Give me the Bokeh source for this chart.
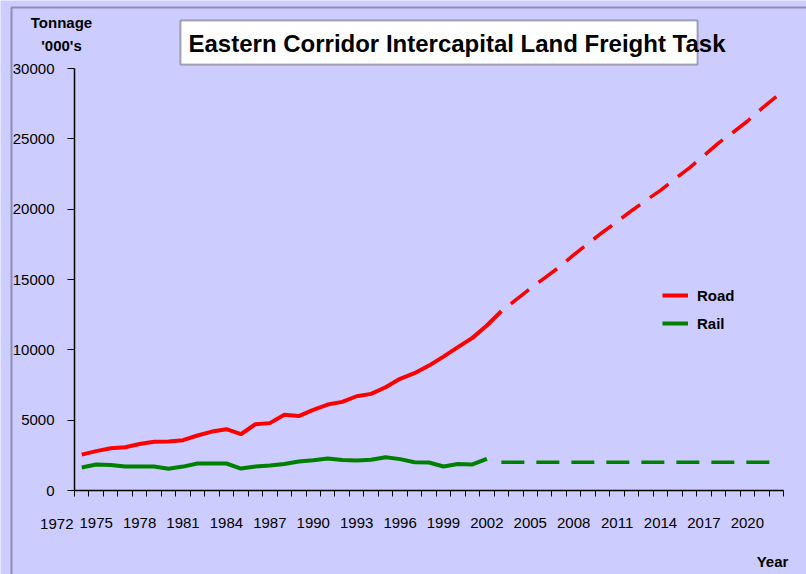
from bokeh.plotting import figure
from bokeh.models import (Range1d, FixedTicker, Label, BoxAnnotation, Legend, LegendItem)
from bokeh.embed import file_html
from bokeh.resources import INLINE

# ---- data ----
road_years = list(range(1974, 2004))
road_values = [2550, 2800, 3000, 3080, 3310, 3460, 3480, 3580, 3910, 4190,
               4360, 4000, 4710, 4790, 5380, 5290, 5730, 6110, 6300, 6700,
               6870, 7340, 7940, 8340, 8880, 9520, 10190, 10850, 11730, 12750]
road_fc_years = list(range(2003, 2023))
road_fc_values = [12750, 13550, 14360, 15120, 15880, 16750, 17560, 18360, 19110, 19890,
                  20630, 21340, 22150, 22940, 23800, 24690, 25450, 26250, 27160, 28000]
rail_years = list(range(1974, 2003))
rail_values = [1640, 1850, 1820, 1710, 1700, 1700, 1540, 1700, 1920, 1920,
               1920, 1560, 1700, 1780, 1890, 2060, 2150, 2270, 2170, 2130,
               2180, 2370, 2230, 2010, 1990, 1710, 1890, 1850, 2250]
rail_fc_years = list(range(2003, 2023))
rail_fc_values = [2000, 2000, 2000, 2000, 2000, 2000, 2000, 2000, 2000, 2000,
                  2000, 2000, 2000, 2000, 2000, 2000, 2000, 2000, 2000, 2000]
x_tick_labels = [1972, 1975, 1978, 1981, 1984, 1987, 1990, 1993, 1996, 1999,
                 2002, 2005, 2008, 2011, 2014, 2017, 2020]
y_ticks = [0, 5000, 10000, 15000, 20000, 25000, 30000]

BG = "#CCCCFF"
FONT = "Liberation Sans"
X0, X1 = 1973.5, 2022.5      # extent of the drawn x axis
Y0, Y1 = 0, 30000            # extent of the drawn y axis
W, H = 806, 574
# where the axes sit on the canvas (pixels)
AL, AR, AT, AB = 74, 783, 68, 490

def dx(px):
    return X0 + (px - AL) * (X1 - X0) / (AR - AL)

def dy(py):
    return Y0 + (AB - py) * (Y1 - Y0) / (AB - AT)

# the plot frame covers the whole canvas; axes are pinned inside it
p = figure(width=W, height=H, output_backend="svg", toolbar_location=None,
           x_range=Range1d(dx(0), dx(W)), y_range=Range1d(dy(H), dy(0)),
           min_border_left=0, min_border_right=0,
           min_border_top=0, min_border_bottom=0)
p.background_fill_color = BG
p.border_fill_color = BG
p.outline_line_color = None
p.xgrid.visible = False
p.ygrid.visible = False

def label(px, py, text, size="15px", bold=False, align="center", baseline="middle"):
    return Label(x=dx(px), y=dy(py), text=text,
                 text_align=align, text_baseline=baseline, text_font=FONT,
                 text_font_size=size, text_font_style="bold" if bold else "normal",
                 text_color="black")

# outer chart border (top and left)
p.add_layout(BoxAnnotation(left=dx(11), right=dx(W + 40), top=dy(7), bottom=dy(H + 40),
                           fill_alpha=0, line_color="black", line_width=2))

# axes
xa = p.xaxis[0]
xa.fixed_location = Y0
xa.bounds = (X0, X1)
xa.ticker = FixedTicker(ticks=[t for t in x_tick_labels if X0 <= t <= X1],
                        minor_ticks=[X0 + i for i in range(int(X1 - X0) + 1)])
xa.major_tick_out = 0
xa.major_tick_in = 0
xa.minor_tick_out = 6
xa.minor_tick_in = 0
xa.minor_tick_line_color = "black"
xa.axis_line_color = "black"
xa.axis_line_width = 1.5
xa.major_label_text_font = FONT
xa.major_label_text_font_size = "15px"
xa.major_label_text_color = "black"
xa.major_label_standoff = 21

ya = p.yaxis[0]
ya.fixed_location = X0
ya.bounds = (Y0, Y1)
ya.ticker = FixedTicker(ticks=y_ticks)
ya.major_tick_out = 7
ya.major_tick_in = 0
ya.minor_tick_out = 0
ya.minor_tick_in = 0
ya.axis_line_color = "black"
ya.axis_line_width = 1.5
ya.major_tick_line_color = "black"
ya.major_label_text_font = FONT
ya.major_label_text_font_size = "15px"
ya.major_label_text_color = "black"
ya.major_label_standoff = 13

# first year label lies left of the axis start
p.add_layout(Label(x=x_tick_labels[0], y=dy(523), text=str(x_tick_labels[0]),
                   x_offset=4, text_align="center", text_baseline="middle",
                   text_font=FONT, text_font_size="15px", text_color="black"))

# lines
r_road = p.line(road_years, road_values, line_color="#FF0000", line_width=4)
p.line(road_fc_years, road_fc_values, line_color="#FF0000", line_width=3.5,
       line_dash="23 12", line_dash_offset=23)
r_rail = p.line(rail_years, rail_values, line_color="#008000", line_width=4)
p.line(rail_fc_years, rail_fc_values, line_color="#008000", line_width=3.5,
       line_dash="23 12")

# title box and text
p.add_layout(BoxAnnotation(left=dx(180), right=dx(697), top=dy(20), bottom=dy(64),
                           fill_color="white", fill_alpha=1, line_color="black",
                           line_width=2))
p.add_layout(label(188, 43, "Eastern Corridor Intercapital Land Freight Task",
                   size="24px", bold=True, align="left"))

# axis titles
p.add_layout(label(61, 22, "Tonnage", bold=True))
p.add_layout(label(61, 45, "'000's", bold=True))
p.add_layout(label(772, 561, "Year", bold=True))

legend = Legend(items=[LegendItem(label="Road", renderers=[r_road]),
                       LegendItem(label="Rail", renderers=[r_rail])],
                location=(662, H - 333), orientation="vertical")
legend.background_fill_alpha = 0
legend.border_line_color = None
legend.padding = 0
legend.margin = 0
legend.spacing = 8
legend.glyph_width = 26
legend.glyph_height = 20
legend.label_height = 20
legend.label_standoff = 9
legend.label_text_font = FONT
legend.label_text_font_size = "15px"
legend.label_text_font_style = "bold"
legend.label_text_color = "black"
p.add_layout(legend)

open("out.html", "w").write(file_html(p, INLINE))
